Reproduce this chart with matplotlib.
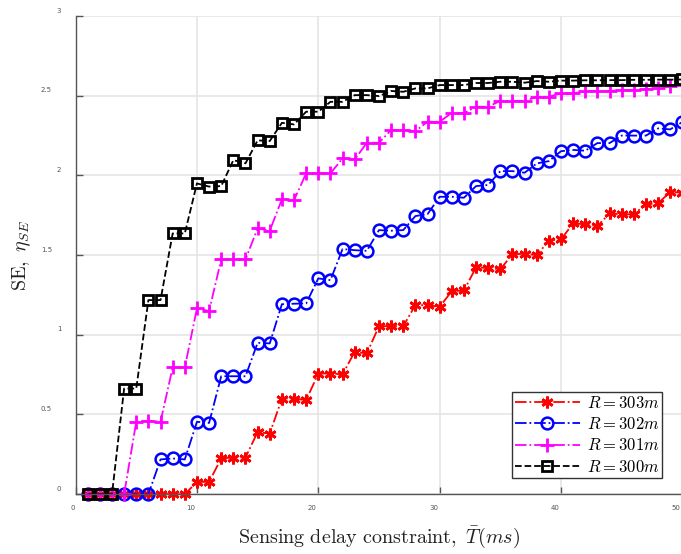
import matplotlib
matplotlib.use('Agg')
import matplotlib.pyplot as plt
from matplotlib.transforms import ScaledTranslation

plt.rcParams['mathtext.fontset'] = 'cm'

# sensing delay constraint T (ms)
delay = list(range(1, 51))

se_303 = [0, 0, 0, 0, 0, 0, 0, 0, 0,
          0.077, 0.077,
          0.224, 0.230, 0.230,
          0.390, 0.380,
          0.600, 0.600, 0.590,
          0.757, 0.757, 0.752,
          0.893, 0.883,
          1.054, 1.054, 1.054,
          1.186, 1.186, 1.176,
          1.274, 1.278,
          1.423, 1.419, 1.411,
          1.506, 1.508, 1.500,
          1.590, 1.599,
          1.699, 1.693, 1.682,
          1.762, 1.755, 1.757,
          1.818, 1.825,
          1.897, 1.891]

se_302 = [0, 0, 0, 0, 0, 0,
          0.218, 0.224, 0.218,
          0.454, 0.447,
          0.740, 0.740, 0.740,
          0.950, 0.946,
          1.192, 1.195, 1.197,
          1.354, 1.343,
          1.538, 1.531, 1.527,
          1.657, 1.653, 1.657,
          1.745, 1.757,
          1.866, 1.866, 1.860,
          1.933, 1.940,
          2.027, 2.027, 2.017,
          2.075, 2.090,
          2.152, 2.160, 2.155,
          2.203, 2.203,
          2.250, 2.250, 2.250,
          2.295, 2.289,
          2.335]

se_301 = [0, 0, 0, 0,
          0.455, 0.460, 0.455,
          0.795, 0.795,
          1.166, 1.149,
          1.473, 1.473, 1.473,
          1.668, 1.653,
          1.850, 1.845,
          2.013, 2.013, 2.013,
          2.107, 2.100,
          2.205, 2.205,
          2.285, 2.285, 2.278,
          2.337, 2.337,
          2.393, 2.390,
          2.431, 2.431,
          2.468, 2.468, 2.468,
          2.492, 2.494,
          2.515, 2.515,
          2.528, 2.530, 2.530,
          2.535, 2.535,
          2.540, 2.546,
          2.562, 2.567]

se_300 = [0, 0, 0,
          0.663, 0.663,
          1.218, 1.218,
          1.636, 1.636,
          1.950, 1.930, 1.933,
          2.096, 2.076,
          2.220, 2.216,
          2.330, 2.320,
          2.400, 2.400,
          2.462, 2.462,
          2.504, 2.504, 2.498,
          2.530, 2.525,
          2.546, 2.546,
          2.567, 2.567, 2.567,
          2.580, 2.580,
          2.588, 2.588, 2.582,
          2.592, 2.588,
          2.595, 2.595, 2.597, 2.597, 2.598, 2.598, 2.600, 2.600, 2.601, 2.601, 2.602]

labels = [r'$R=303m$', r'$R=302m$', r'$R=301m$', r'$R=300m$']
x_ticks = [0, 10, 20, 30, 40, 50]
x_tick_labels = ['0', '10', '20', '30', '40', '50']
y_ticks = [0, 0.5, 1, 1.5, 2, 2.5, 3]
y_tick_labels = ['0', '0.5', '1', '1.5', '2', '2.5', '3']

fig = plt.figure(figsize=(6.81, 5.54), dpi=100)
ax = fig.add_axes([0.111, 0.108, 0.891, 0.863])

ax.plot(delay, se_303, linestyle='-.', color='red', lw=1.3, marker=(6, 2, 0),
        ms=8.5, mew=2.0, label=labels[0], clip_on=False)
ax.plot(delay, se_302, linestyle='-.', color='blue', lw=1.3, marker='o',
        ms=8.5, mew=1.8, mfc='none', label=labels[1], clip_on=False)
ax.plot(delay, se_301, linestyle='-.', color='magenta', lw=1.3, marker='+',
        ms=9.5, mew=2.0, label=labels[2], clip_on=False)
ax.plot(delay, se_300, linestyle='--', color='black', lw=1.3, marker='s',
        ms=7.2, mew=2.0, mfc='none', label=labels[3], clip_on=False)

ax.set_xlim(0, 50)
ax.set_ylim(0, 3)
ax.set_xticks(x_ticks)
ax.set_xticklabels(x_tick_labels, ha='left')
ax.set_yticks(y_ticks)
ax.set_yticklabels(y_tick_labels, ha='left')
ax.grid(True, color='#e3e3e3', linewidth=1.1)
ax.set_axisbelow(True)

for side in ['top', 'right']:
    ax.spines[side].set_visible(False)
for side in ['left', 'bottom']:
    ax.spines[side].set_color('#555555')
    ax.spines[side].set_linewidth(1.0)

ax.tick_params(axis='both', direction='in', length=5, width=1.0, color='#555555',
               labelsize=5, labelcolor='#555555')
ax.tick_params(axis='x', pad=8)
ax.tick_params(axis='y', pad=13.5)

# the exported labels keep the offsets of a larger font: shift each by its length
for lbl in ax.get_xticklabels():
    dx = -5.25 * len(lbl.get_text()) / 100
    lbl.set_transform(lbl.get_transform() + ScaledTranslation(dx, 0, fig.dpi_scale_trans))
for lbl in ax.get_yticklabels():
    dx = -16 / 100 if len(lbl.get_text()) > 1 else 0
    lbl.set_transform(lbl.get_transform() + ScaledTranslation(dx, 0.06, fig.dpi_scale_trans))

ax.set_xlabel(r'$\mathrm{Sensing\ delay\ constraint},\ \bar{T}(ms)$', fontsize=14.5,
              color='#222222', labelpad=10)
ax.set_ylabel(r'$\mathrm{SE},\ \eta_{SE}$', fontsize=14.5, color='#222222', labelpad=6)

leg = ax.legend(loc='lower right', bbox_to_anchor=(0.967, 0.0335), borderaxespad=0,
                fontsize=12, handlelength=3.9, labelspacing=0.19, fancybox=False,
                framealpha=1, edgecolor='#333333', borderpad=0.15, handletextpad=0.45)
leg.get_frame().set_linewidth(1.0)

plt.savefig('out.png', dpi=100)
